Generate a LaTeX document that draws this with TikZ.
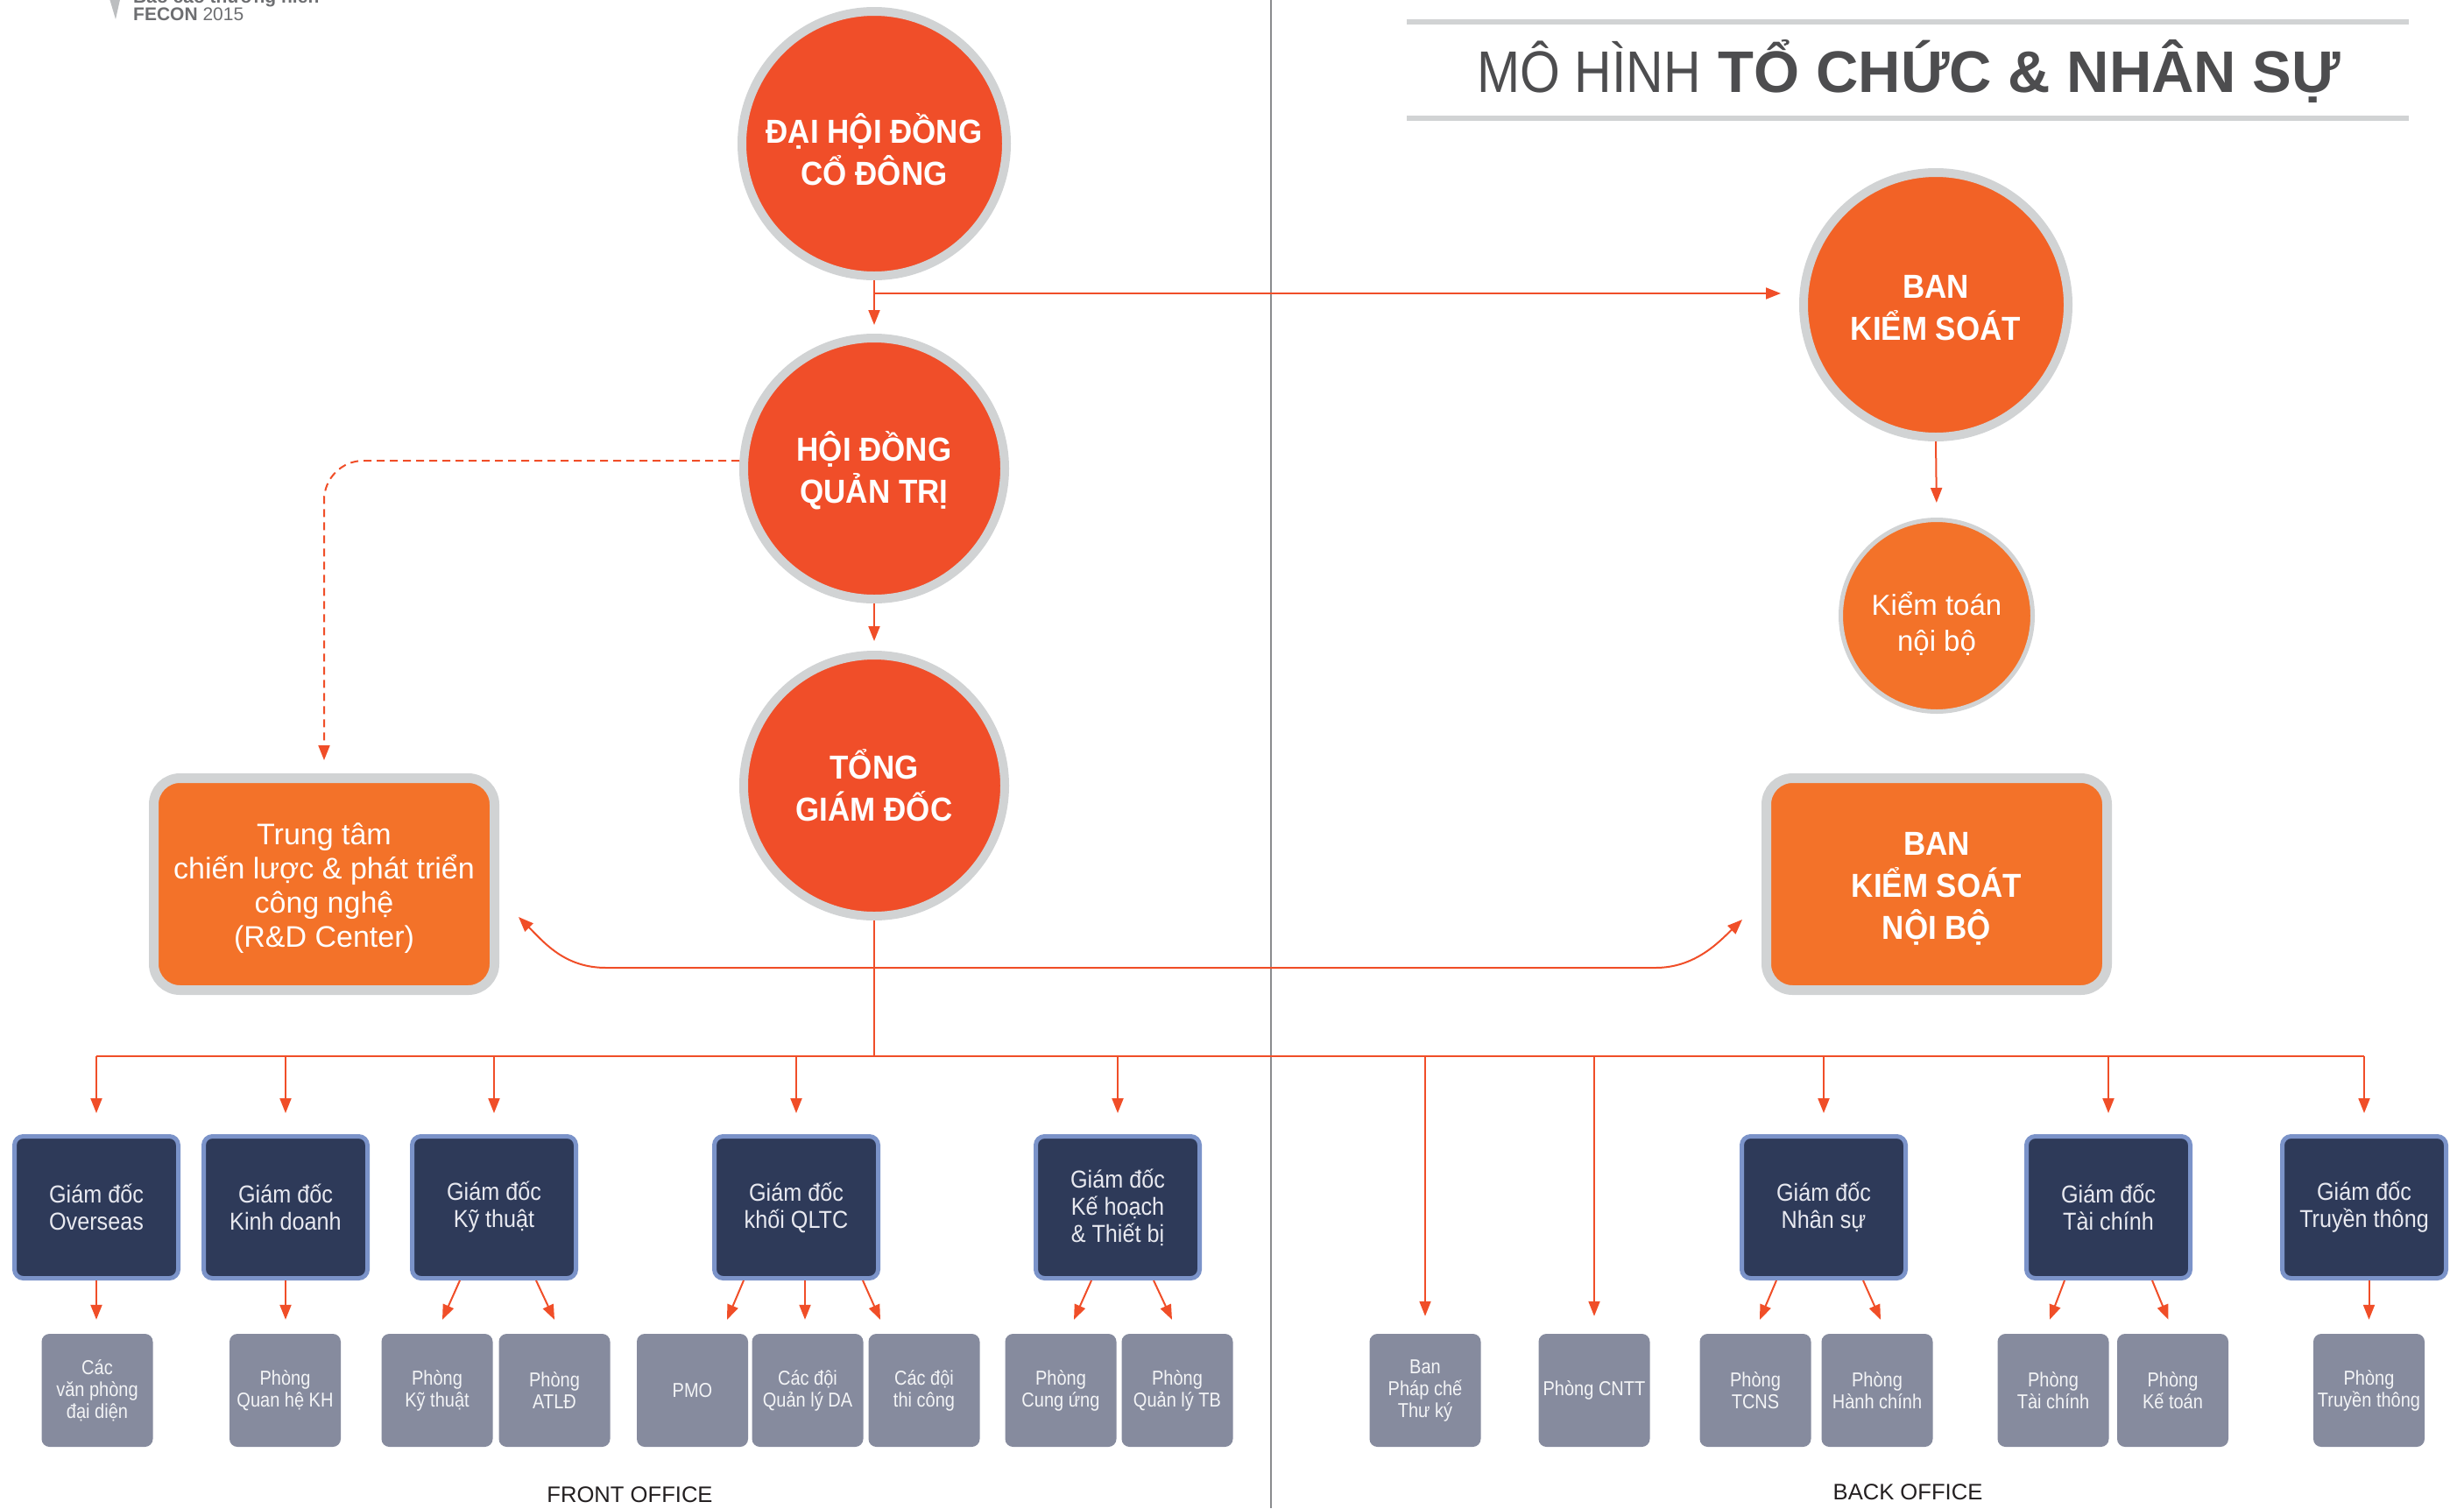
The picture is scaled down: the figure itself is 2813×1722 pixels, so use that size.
\documentclass[tikz,border=0pt]{standalone}
\usepackage{fontspec}
\setmainfont{Liberation Sans}
\newfontfamily\fB[FakeStretch=0.92]{Liberation Sans}
\newfontfamily\fK[FakeStretch=0.9]{Liberation Sans}
\newfontfamily\fG[FakeStretch=0.87]{Liberation Sans}
\newfontfamily\fT[FakeStretch=0.88]{Liberation Sans}
\usetikzlibrary{arrows.meta}
\definecolor{cRed}{HTML}{F04E29}
\definecolor{cRed2}{HTML}{F26226}
\definecolor{cOr}{HTML}{F37229}
\definecolor{cRing}{HTML}{D1D3D4}
\definecolor{cNavy}{HTML}{2E3A59}
\definecolor{cBlueB}{HTML}{7B93C9}
\definecolor{cGrayB}{HTML}{868B9E}
\definecolor{cArr}{HTML}{F04E28}
\definecolor{cTitle}{HTML}{4D4D4F}
\definecolor{cDiv}{HTML}{8A8C8E}
\definecolor{cHead}{HTML}{6D6E71}
\definecolor{cTri}{HTML}{BCBEC0}
\definecolor{cTxtD}{HTML}{E8E9F0}
\definecolor{cTxtG}{HTML}{F3F4F6}
\definecolor{cLbl}{HTML}{231F20}
\begin{document}
\begin{tikzpicture}[x=1pt,y=-1pt,
  bigcirc/.style={circle,fill=cRed,draw=cRing,line width=10pt,minimum size=#1,inner sep=0pt},
  btext/.style={inner sep=0pt,text=white,align=center,font=\fB\bfseries\fontsize{38}{48}\selectfont},
  obox/.style={rectangle,fill=cOr,draw=cRing,line width=11pt,rounded corners=30pt,
     minimum width=389pt,minimum height=242pt,inner sep=0pt},
  dbox/.style={rectangle,fill=cNavy,draw=cBlueB,line width=5pt,rounded corners=10pt,
     minimum width=187pt,minimum height=162pt,inner sep=0pt,text=cTxtD,align=center,
     font=\fK\fontsize{28}{31}\selectfont},
  gbox/.style={rectangle,fill=cGrayB,rounded corners=9pt,
     minimum width=127pt,minimum height=129pt,inner sep=0pt,text=cTxtG,align=center,
     font=\fG\fontsize{23}{25}\selectfont},
  conn/.style={draw=cArr,line width=2pt},
  arr/.style={draw=cArr,line width=2pt,-{Triangle[length=17pt,width=13pt]}},
  dsh/.style={draw=cArr,line width=2pt,dash pattern=on 9pt off 6pt,rounded corners=45pt,
     -{Triangle[length=17pt,width=13pt]}},
  lbl/.style={anchor=base,inner sep=0pt,text=cLbl,font=\fontsize{25.6}{26}\selectfont}
]
\useasboundingbox (0,0) rectangle (2813,1722);
% divider
\draw[cDiv,line width=1.5pt] (1451,0) -- (1451,1722);
% header
\fill[cTri] (124,-5) -- (138,-5) -- (132,22) -- cycle;
\node[anchor=base west,inner sep=0pt,text=cHead,font=\bfseries\fontsize{21}{21}\selectfont] (bctn) at (152,3) {Báo cáo thường niên};
\node[anchor=base west,inner sep=0pt,text=cHead,font=\fontsize{21}{21}\selectfont] (fecon) at (152,23) {\textbf{FECON} 2015};
% title
\draw[cRing,line width=6pt] (1606,25) -- (2750,25);
\draw[cRing,line width=6pt] (1606,135) -- (2750,135);
\node[anchor=base west,inner sep=0pt,text=cTitle] (title) at (1686,105)
  {{\fT\fontsize{67}{67}\selectfont MÔ HÌNH}\hspace{20pt}{\bfseries\fontsize{67}{67}\selectfont TỔ CHỨC \& NHÂN SỰ}};
% circles
\node[bigcirc=302pt] (dhdcd) at (998,164) {};
\node[btext] (dhdcdT) at (998,171) {ĐẠI HỘI ĐỒNG\\CỔ ĐÔNG};
\node[bigcirc=298pt] (hdqt) at (998,535) {};
\node[btext] (hdqtT) at (998,537) {HỘI ĐỒNG\\QUẢN TRỊ};
\node[bigcirc=298pt] (tgd) at (998,897) {};
\node[btext] (tgdT) at (998,897) {TỔNG\\GIÁM ĐỐC};
\node[bigcirc=302pt,fill=cRed2] (bks) at (2210,348) {};
\node[btext] (bksT) at (2210,352) {BAN\\KIỂM SOÁT};
\node[circle,fill=cOr,draw=cRing,line width=5pt,minimum size=219pt,inner sep=0pt] (ktnb) at (2211,703) {};
\node[inner sep=0pt,text=white,align=center,font=\fontsize{33}{41}\selectfont] (ktnbT) at (2211,712) {Kiểm toán\\nội bộ};
% orange boxes
\node[obox] (rd) at (370,1009.5) {};
\node[inner sep=0pt,text=white,align=center,font=\fontsize{34}{39}\selectfont] (rdT) at (370,1014.5)
  {Trung tâm\\chiến lược \& phát triển\\công nghệ\\(R\&D Center)};
\node[obox] (bksnb) at (2211,1009.5) {};
\node[btext] (bksnbT) at (2211,1014.5) {BAN\\KIỂM SOÁT\\NỘI BỘ};
% director boxes
\node[dbox] (ov) at (110,1378.5) {Giám đốc\\Overseas};
\node[dbox] (kd) at (326,1378.5) {Giám đốc\\Kinh doanh};
\node[dbox] (kt) at (564,1378.5) {Giám đốc\\Kỹ thuật};
\node[dbox] (qltc) at (909,1378.5) {Giám đốc\\khối QLTC};
\node[dbox] (khtb) at (1276,1378.5) {Giám đốc\\Kế hoạch\\\& Thiết bị};
\node[dbox] (ns) at (2082,1378.5) {Giám đốc\\Nhân sự};
\node[dbox] (tc) at (2407,1378.5) {Giám đốc\\Tài chính};
\node[dbox] (tt) at (2699,1378.5) {Giám đốc\\Truyền thông};
% department boxes
\node[gbox] (vpdd) at (111,1587.5) {Các\\văn phòng\\đại diện};
\node[gbox] (qhkh) at (325.5,1587.5) {Phòng\\Quan hệ KH};
\node[gbox] (pkt) at (499,1587.5) {Phòng\\Kỹ thuật};
\node[gbox] (atld) at (633,1587.5) {Phòng\\ATLĐ};
\node[gbox] (pmo) at (790.5,1587.5) {PMO};
\node[gbox] (qlda) at (922,1587.5) {Các đội\\Quản lý DA};
\node[gbox] (thicong) at (1055,1587.5) {Các đội\\thi công};
\node[gbox] (cungung) at (1211,1587.5) {Phòng\\Cung ứng};
\node[gbox] (qltb) at (1344,1587.5) {Phòng\\Quản lý TB};
\node[gbox] (phapche) at (1627,1587.5) {Ban\\Pháp chế\\Thư ký};
\node[gbox] (cntt) at (1820,1587.5) {Phòng CNTT};
\node[gbox] (tcns) at (2004,1587.5) {Phòng\\TCNS};
\node[gbox] (hanhchinh) at (2143,1587.5) {Phòng\\Hành chính};
\node[gbox] (ptc) at (2344,1587.5) {Phòng\\Tài chính};
\node[gbox] (ketoan) at (2480.5,1587.5) {Phòng\\Kế toán};
\node[gbox] (ptt) at (2704.5,1587.5) {Phòng\\Truyền thông};
% labels
\node[lbl] (front) at (719,1715) {FRONT OFFICE};
\node[lbl] (back) at (2178,1712) {BACK OFFICE};
% connectors top
\coordinate (j1) at (998,335);
\draw[arr,shorten >=10pt] (dhdcd.south) -- (hdqt.north);
\draw[arr,shorten >=21pt] (j1) -- (j1 -| bks.west);
\draw[arr,shorten >=11pt] (hdqt.south) -- (tgd.north);
\draw[arr,shorten >=17pt] (bks.south) -- (ktnb.north);
\draw[dsh,shorten >=15pt] ([yshift=9pt]hdqt.west) -| (rd.north);
% TGD branches
\coordinate (bus) at (0,1206);
\coordinate (j2) at (998,1105);
\draw[conn] (tgd.south) -- (tgd.south |- bus);
\draw[arr] (j2) -- (692,1105) .. controls (645,1105) and (622,1077) .. ([xshift=22pt,yshift=-37.5pt]rd.east);
\draw[arr] (j2) -- (1890,1105) .. controls (1935,1105) and (1962,1076) .. ([xshift=-22pt,yshift=-40.5pt]bksnb.west);
\draw[conn] (ov.north |- bus) -- (tt.north |- bus);
\foreach \b in {ov,kd,kt,qltc,khtb,ns,tc,tt}
  \draw[arr,shorten >=24pt] (\b.north |- bus) -- (\b.north);
\foreach \b in {phapche,cntt}
  \draw[arr,shorten >=20pt] (\b.north |- bus) -- (\b.north);
% director -> department
\draw[arr,shorten >=16pt] (ov.south) -- (ov.south |- vpdd.north);
\draw[arr,shorten >=16pt] (kd.south) -- (kd.south |- qhkh.north);
\draw[arr] ([xshift=-39pt]kt.south) -- ([xshift=6pt,yshift=16pt]pkt.north);
\draw[arr] ([xshift=48pt]kt.south) -- ([xshift=0pt,yshift=16pt]atld.north);
\draw[arr] ([xshift=-60pt]qltc.south) -- ([xshift=39.5pt,yshift=16pt]pmo.north);
\draw[arr] ([xshift=10pt]qltc.south) -- ([xshift=-3pt,yshift=16pt]qlda.north);
\draw[arr] ([xshift=76pt]qltc.south) -- ([xshift=-50pt,yshift=16pt]thicong.north);
\draw[arr] ([xshift=-30pt]khtb.south) -- ([xshift=15pt,yshift=16pt]cungung.north);
\draw[arr] ([xshift=41pt]khtb.south) -- ([xshift=-6pt,yshift=16pt]qltb.north);
\draw[arr] ([xshift=-54pt]ns.south) -- ([xshift=5pt,yshift=16pt]tcns.north);
\draw[arr] ([xshift=45pt]ns.south) -- ([xshift=4pt,yshift=16pt]hanhchinh.north);
\draw[arr] ([xshift=-50pt]tc.south) -- ([xshift=-4pt,yshift=16pt]ptc.north);
\draw[arr] ([xshift=50pt]tc.south) -- ([xshift=-5pt,yshift=16pt]ketoan.north);
\draw[arr] ([xshift=5.5pt]tt.south) -- ([yshift=16pt]ptt.north);
\end{tikzpicture}
\end{document}
